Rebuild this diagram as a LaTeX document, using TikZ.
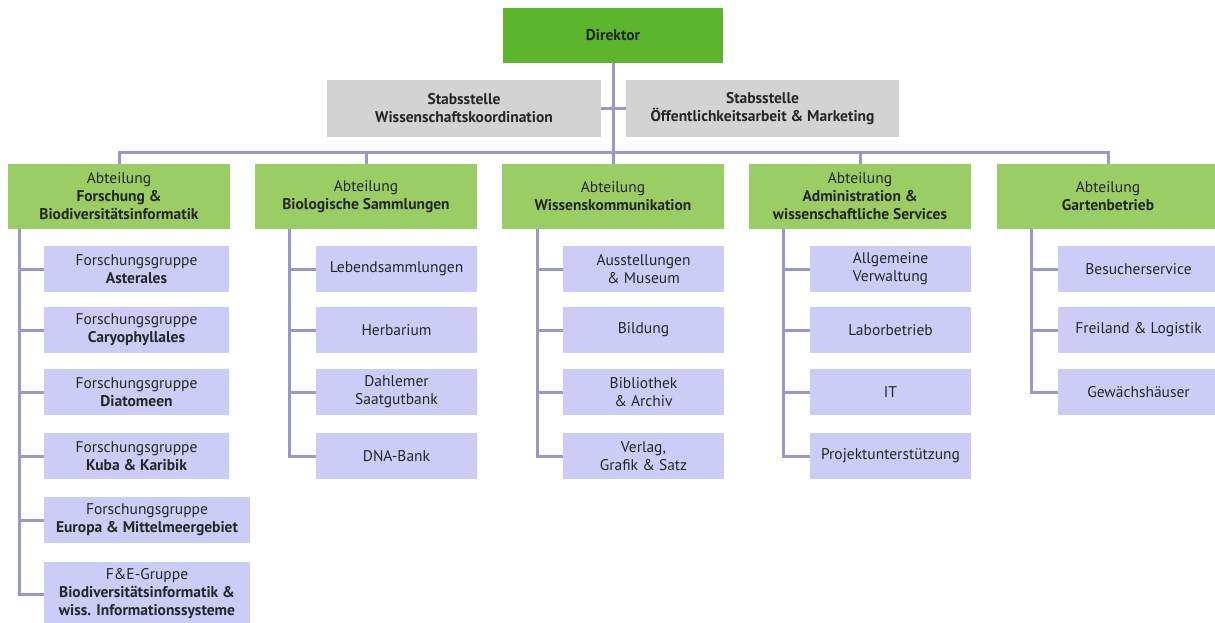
\documentclass[tikz,border=0pt]{standalone}
\usepackage{fontspec}
\setmainfont{PT Sans}
\usepackage{tikz}
\usetikzlibrary{positioning}

\definecolor{dirgreen}{RGB}{92,181,44}
\definecolor{abtgreen}{RGB}{155,205,101}
\definecolor{stabgray}{RGB}{211,211,211}
\definecolor{sublilac}{RGB}{204,204,247}
\definecolor{linkblue}{RGB}{152,152,202}

\begin{document}
\begin{tikzpicture}[x=1pt,y=-1pt,
  box/.style={inner sep=0pt,align=center,text=black!85,font=\fontsize{15.5}{18}\selectfont},
  dirbox/.style={box,fill=dirgreen,minimum width=220pt,minimum height=55pt},
  stabbox/.style={box,fill=stabgray,minimum width=274pt,minimum height=57pt},
  abtbox/.style={box,fill=abtgreen,minimum width=222pt,minimum height=65pt},
  subbox/.style={box,fill=sublilac,minimum width=161pt,minimum height=46pt},
  fgbox/.style={subbox,minimum width=185pt},
  link/.style={draw=linkblue,line width=3pt}]
\useasboundingbox (0,0) rectangle (1215,623);
\clip (0,0) rectangle (1215,623);

% leitung
\node[dirbox] (dir) at (613,35.5) {\textbf{Direktor}};
\node[stabbox] (stw) at (464,108.5) {\textbf{Stabsstelle}\\\textbf{Wissenschaftskoordination}};
\node[stabbox,minimum width=273pt] (sto) at (762.5,108.5) {\textbf{Stabsstelle}\\\textbf{Öffentlichkeitsarbeit \& Marketing}};

% abteilungen
\node[abtbox] (fo) at (119,196.5) {Abteilung\\\textbf{Forschung \&}\\\textbf{Biodiversitätsinformatik}};
\node[abtbox] (bio) at (366,196.5) {Abteilung\\\textbf{Biologische Sammlungen}};
\node[abtbox] (wk) at (613,196.5) {Abteilung\\\textbf{Wissenskommunikation}};
\node[abtbox] (adm) at (860,196.5) {Abteilung\\\textbf{Administration \&}\\\textbf{wissenschaftliche Services}};
\node[abtbox] (ga) at (1108,196.5) {Abteilung\\\textbf{Gartenbetrieb}};

% forschung
\node[fgbox] (fo1) at (136.5,269) {Forschungsgruppe\\\textbf{Asterales}};
\node[fgbox] (fo2) at (136.5,330) {Forschungsgruppe\\\textbf{Caryophyllales}};
\node[fgbox] (fo3) at (136.5,392) {Forschungsgruppe\\\textbf{Diatomeen}};
\node[fgbox] (fo4) at (136.5,456) {Forschungsgruppe\\\textbf{Kuba \& Karibik}};
\node[fgbox,minimum width=206pt] (fo5) at (147,520) {Forschungsgruppe\\\textbf{Europa \& Mittelmeergebiet}};
\node[fgbox,minimum width=206pt,minimum height=64pt] (fo6) at (147,594) {F\&E-Gruppe\\\textbf{Biodiversitätsinformatik \&}\\\textbf{wiss. Informationssysteme}};

% sammlungen
\node[subbox] (bio1) at (396.5,269) {Lebendsammlungen};
\node[subbox] (bio2) at (396.5,330) {Herbarium};
\node[subbox] (bio3) at (396.5,392) {Dahlemer\\Saatgutbank};
\node[subbox] (bio4) at (396.5,456) {DNA-Bank};

% kommunikation
\node[subbox] (wk1) at (643.5,269) {Ausstellungen\\\& Museum};
\node[subbox] (wk2) at (643.5,330) {Bildung};
\node[subbox] (wk3) at (643.5,392) {Bibliothek\\\& Archiv};
\node[subbox] (wk4) at (643.5,456) {Verlag,\\Grafik \& Satz};

% administration
\node[subbox] (adm1) at (890.5,269) {Allgemeine\\Verwaltung};
\node[subbox] (adm2) at (890.5,330) {Laborbetrieb};
\node[subbox] (adm3) at (890.5,392) {IT};
\node[subbox] (adm4) at (890.5,456) {Projektunterstützung};

% garten
\node[subbox] (ga1) at (1138.5,269) {Besucherservice};
\node[subbox] (ga2) at (1138.5,330) {Freiland \& Logistik};
\node[subbox] (ga3) at (1138.5,392) {Gewächshäuser};

% verbindungen oben
\coordinate (bus) at (613,152);
\draw[link] (dir.south) -- (wk.north);
\draw[link] (stw.east) -- (sto.west);
\draw[link] (fo.north) -- (fo.north |- bus) -- (ga.north |- bus) -- (ga.north);
\draw[link] (bio.north) -- (bio.north |- bus);
\draw[link] (adm.north) -- (adm.north |- bus);

% staemme
\coordinate (fosp) at ([xshift=12pt]fo.south west);
\coordinate (biosp) at ([xshift=35pt]bio.south west);
\coordinate (wksp) at ([xshift=36pt]wk.south west);
\coordinate (admsp) at ([xshift=35pt]adm.south west);
\coordinate (gasp) at ([xshift=35pt]ga.south west);
\draw[link] (fosp) |- (fo6.west) (fo1.west) -- (fo1.west -| fosp) (fo2.west) -- (fo2.west -| fosp)
  (fo3.west) -- (fo3.west -| fosp) (fo4.west) -- (fo4.west -| fosp) (fo5.west) -- (fo5.west -| fosp);
\draw[link] (biosp) |- (bio4.west) (bio1.west) -- (bio1.west -| biosp) (bio2.west) -- (bio2.west -| biosp)
  (bio3.west) -- (bio3.west -| biosp);
\draw[link] (wksp) |- (wk4.west) (wk1.west) -- (wk1.west -| wksp) (wk2.west) -- (wk2.west -| wksp)
  (wk3.west) -- (wk3.west -| wksp);
\draw[link] (admsp) |- (adm4.west) (adm1.west) -- (adm1.west -| admsp) (adm2.west) -- (adm2.west -| admsp)
  (adm3.west) -- (adm3.west -| admsp);
\draw[link] (gasp) |- (ga3.west) (ga1.west) -- (ga1.west -| gasp) (ga2.west) -- (ga2.west -| gasp);
\end{tikzpicture}
\end{document}
